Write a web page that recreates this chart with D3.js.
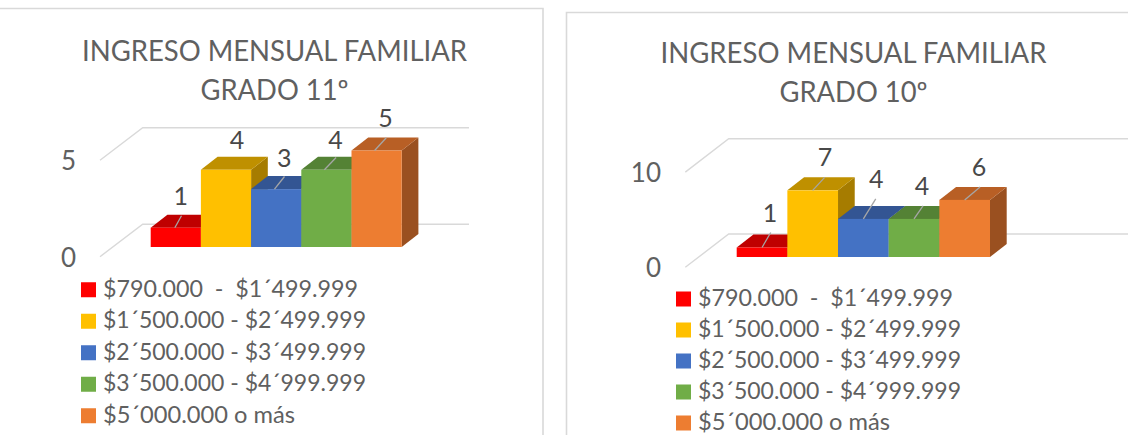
<!DOCTYPE html>
<html><head><meta charset="utf-8">
<script src="https://cdn.jsdelivr.net/npm/d3@7"></script>
<style>html,body{margin:0;padding:0;background:#fff}svg{display:block}text{font-family:Lato,"Open Sans",sans-serif}</style>
</head><body><svg id="c" width="1128" height="435"></svg>
<script>
const categories=["$790.000  -  $1´499.999","$1´500.000 - $2´499.999","$2´500.000 - $3´499.999","$3´500.000 - $4´999.999","$5´000.000 o más"];
const colors=["#ff0000","#ffc000","#4472c4","#70ad47","#ed7d31"];
const topColors=["#bf0000","#bf9000","#335593","#548235","#b85f25"];
const sideColors=["#a00000","#a67c00","#2c4a80","#48702e","#9a5020"];
const values11=[1,4,3,4,5];
const values10=[1,7,4,4,6];
const ticks11=[0,5];
const ticks10=[0,10];
const titleLines11=["INGRESO MENSUAL FAMILIAR","GRADO 11º"];
const titleLines10=["INGRESO MENSUAL FAMILIAR","GRADO 10º"];
const legendWidths=[255,263,263,263,192];

const svg=d3.select("#c");
const textCol="#606060";

function panel(cfg){
  const g=svg.append("g");
  g.append("path").attr("d",cfg.frame).attr("fill","none").attr("stroke","#d9d9d9").attr("stroke-width",1.6);
  g.selectAll(".t").data(cfg.title).join("text").attr("class","t")
    .attr("x",cfg.titleX).attr("y",(d,i)=>cfg.titleY+i*cfg.titleGap)
    .attr("text-anchor","middle").attr("font-size",cfg.titleSize).attr("fill",textCol)
    .attr("textLength",(d,i)=>cfg.titleLen[i]).attr("lengthAdjust","spacingAndGlyphs").text(d=>d);
  const y=d3.scaleLinear().domain([0,cfg.max]).range([cfg.baseY,cfg.baseY-cfg.unit*cfg.max]);
  const x=d3.scaleBand().domain(d3.range(cfg.values.length)).range(cfg.barX).padding(0);
  const dx=cfg.dx,dy=cfg.dy;
  const off=cfg.floorOffset;
  cfg.ticks.forEach(t=>{
    const yy=y(t);
    g.append("polyline").attr("fill","none").attr("stroke","#d9d9d9").attr("stroke-width",1.4)
      .attr("points",[[cfg.wall[0]-cfg.sideDx,yy+off],[cfg.wall[0],yy+off-cfg.sideDy],[cfg.wall[1],yy+off-cfg.sideDy]].join(" "));
    g.append("text").attr("x",cfg.tickX).attr("y",yy+off+cfg.tickDy).attr("text-anchor","end")
      .attr("font-size",cfg.labelSize).attr("fill",textCol).text(t);
  });
  cfg.values.forEach((v,i)=>{
    const x0=x(i),x1=x0+x.bandwidth(),yt=y(v),yb=y(0);
    g.append("polygon").attr("fill",sideColors[i]).attr("points",[[x1,yt],[x1+dx,yt+dy],[x1+dx,yb+dy],[x1,yb]].join(" "));
    g.append("polygon").attr("fill",topColors[i]).attr("points",[[x0,yt],[x0+dx,yt+dy],[x1+dx,yt+dy],[x1,yt]].join(" "));
  });
  cfg.values.forEach((v,i)=>{
    const x0=x(i),x1=x0+x.bandwidth(),yt=y(v),yb=y(0);
    g.append("rect").attr("x",x0).attr("y",yt).attr("width",x1-x0).attr("height",yb-yt).attr("fill",colors[i]);
  });
  cfg.values.forEach((v,i)=>{
    const xm=x(i)+x.bandwidth()/2,yt=y(v);
    const ll=cfg.leader[i];
    if(ll) g.append("line").attr("x1",xm+ll[0]).attr("y1",yt+ll[1]).attr("x2",xm+ll[2]).attr("y2",yt+ll[3])
      .attr("stroke","#a6a6a6").attr("stroke-width",1.3);
    g.append("text").attr("x",xm+cfg.lab[i][0]).attr("y",yt+cfg.lab[i][1]).attr("text-anchor","middle")
      .attr("font-size",cfg.valSize).attr("fill","#484848").text(v);
  });
  const lg=d3.scaleBand().domain(d3.range(categories.length)).range(cfg.legY).padding(0);
  categories.forEach((c,i)=>{
    const cy=lg(i)+lg.bandwidth()/2;
    g.append("rect").attr("x",cfg.legX).attr("y",cy-7.5).attr("width",15).attr("height",15).attr("fill",colors[i]);
    g.append("text").attr("x",cfg.legX+22).attr("y",cy+7).attr("font-size",cfg.legSize).attr("fill",textCol)
      .attr("textLength",legendWidths[i]).attr("lengthAdjust","spacingAndGlyphs")
      .style("white-space","pre").text(c);
  });
}

panel({frame:"M0,8.5H543V435",title:titleLines11,titleX:274.5,titleY:61,titleGap:38.5,titleSize:28,titleLen:[385,148],
  values:values11,max:5,unit:19.3,baseY:247,barX:[150.7,401.7],dx:16.7,dy:-13,
  ticks:ticks11,wall:[142.7,469],sideDx:42.7,sideDy:32.4,floorOffset:9.7,tickX:76,tickDy:10,labelSize:26,
  leader:[[-1,0,5.7,-12],null,[-1.7,0,8.3,-12.6],[-2,0,9.7,-12.3],[-2,0,9.7,-12.7]],
  lab:[[5,-23],[11,-21],[8,-22],[9,-21],[9,-23.5]],valSize:25,
  legX:81,legY:[274,431.5],legSize:24,
});
panel({frame:"M566.5,435V12.5H1128",title:titleLines10,titleX:853.5,titleY:63,titleGap:38.5,titleSize:28,titleLen:[386,148],
  values:values10,max:10,unit:9.52,baseY:257,barX:[736.7,990],dx:16.7,dy:-13,
  ticks:ticks10,wall:[728.7,1128],sideDx:43.4,sideDy:33.3,floorOffset:10.3,tickX:661,tickDy:9.5,labelSize:26,
  leader:[[0,0,8.7,-15],[0,0,12,-13],[0,0,12.4,-20],[0,0,9,-13],[0,0,15.4,-13]],
  lab:[[8,-25.5],[12.4,-24.4],[13,-31],[8,-24],[14.4,-24]],valSize:25,
  legX:676,legY:[283.5,438.5],legSize:24,
});
</script></body></html>
